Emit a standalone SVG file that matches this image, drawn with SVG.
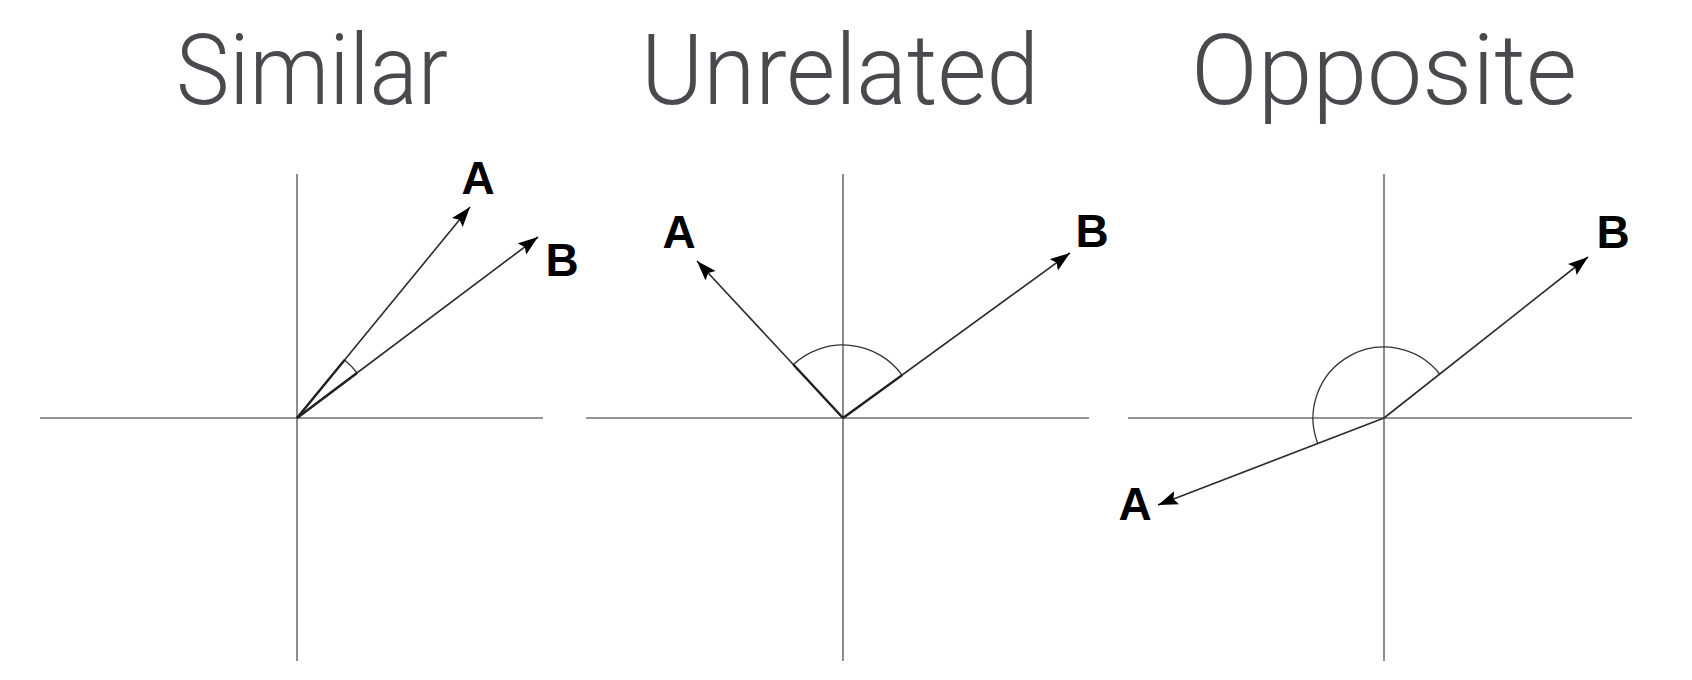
<svg xmlns="http://www.w3.org/2000/svg" width="1692" height="680" viewBox="0 0 1692 680">
<style>
.title{font-family:"Roboto","Liberation Sans",Arial,sans-serif;font-weight:300;font-size:99px;fill:#4a4a4e;text-anchor:middle}
.lbl{font-family:"Liberation Sans",Arial,sans-serif;font-weight:bold;font-size:46px;fill:#000;text-anchor:middle}
.axis{stroke:#707070;stroke-width:1.6;fill:none}
.vec{stroke:#2a2a2a;stroke-width:1.6;fill:none;marker-end:url(#arrow)}
.inner{stroke:#222;stroke-width:2.4;fill:none}
.arc{stroke:#333;stroke-width:1.3;fill:none}
</style>
<defs>
<marker id="arrow" markerUnits="userSpaceOnUse" markerWidth="21" markerHeight="15" refX="20" refY="7" orient="auto">
<path d="M0,0 L20,7 L0,14 L3.5,7 z" fill="#000"/>
</marker>
</defs>
<rect width="1692" height="680" fill="#fff"/>
<g id="titles">
<text class="title" x="312" y="104" textLength="272" lengthAdjust="spacingAndGlyphs">Similar</text>
<text class="title" x="840" y="104" textLength="398" lengthAdjust="spacingAndGlyphs">Unrelated</text>
<text class="title" x="1384" y="104" textLength="386" lengthAdjust="spacingAndGlyphs">Opposite</text>
</g>
<g id="panel-similar">
<line class="axis" x1="40" y1="418" x2="543" y2="418"/>
<line class="axis" x1="297" y1="174" x2="297" y2="661"/>
<path class="arc" d="M357,373 A75,75 0 0 0 344.6,360.1"/>
<text class="lbl" x="478" y="194">A</text>
<text class="lbl" x="562" y="276">B</text>
</g>
<g id="panel-unrelated">
<line class="axis" x1="586" y1="418" x2="1089" y2="418"/>
<line class="axis" x1="843" y1="174" x2="843" y2="661"/>
<path class="arc" d="M902.1,375.1 A73,73 0 0 0 793.3,364.5"/>
<text class="lbl" x="679" y="248">A</text>
<text class="lbl" x="1092" y="247">B</text>
</g>
<g id="panel-opposite">
<line class="axis" x1="1128" y1="418" x2="1632" y2="418"/>
<line class="axis" x1="1384" y1="174" x2="1384" y2="661"/>
<path class="arc" d="M1439.7,374 A71,71 0 0 0 1317.7,443.4"/>
<text class="lbl" x="1613" y="248">B</text>
<text class="lbl" x="1135" y="520">A</text>
</g>
<g id="connectors">
<line class="vec" x1="297" y1="418" x2="470" y2="207"/>
<line class="vec" x1="297" y1="418" x2="538" y2="237"/>
<line class="inner" x1="297" y1="418" x2="344.6" y2="360.1"/>
<line class="inner" x1="297" y1="418" x2="357" y2="373"/>
<line class="vec" x1="843" y1="418" x2="697" y2="261"/>
<line class="vec" x1="843" y1="418" x2="1070" y2="253"/>
<line class="inner" x1="843" y1="418" x2="793.3" y2="364.5"/>
<line class="inner" x1="843" y1="418" x2="902.1" y2="375.1"/>
<line class="vec" x1="1384" y1="418" x2="1588" y2="257"/>
<line class="vec" x1="1384" y1="418" x2="1158" y2="505"/>
</g>
</svg>
